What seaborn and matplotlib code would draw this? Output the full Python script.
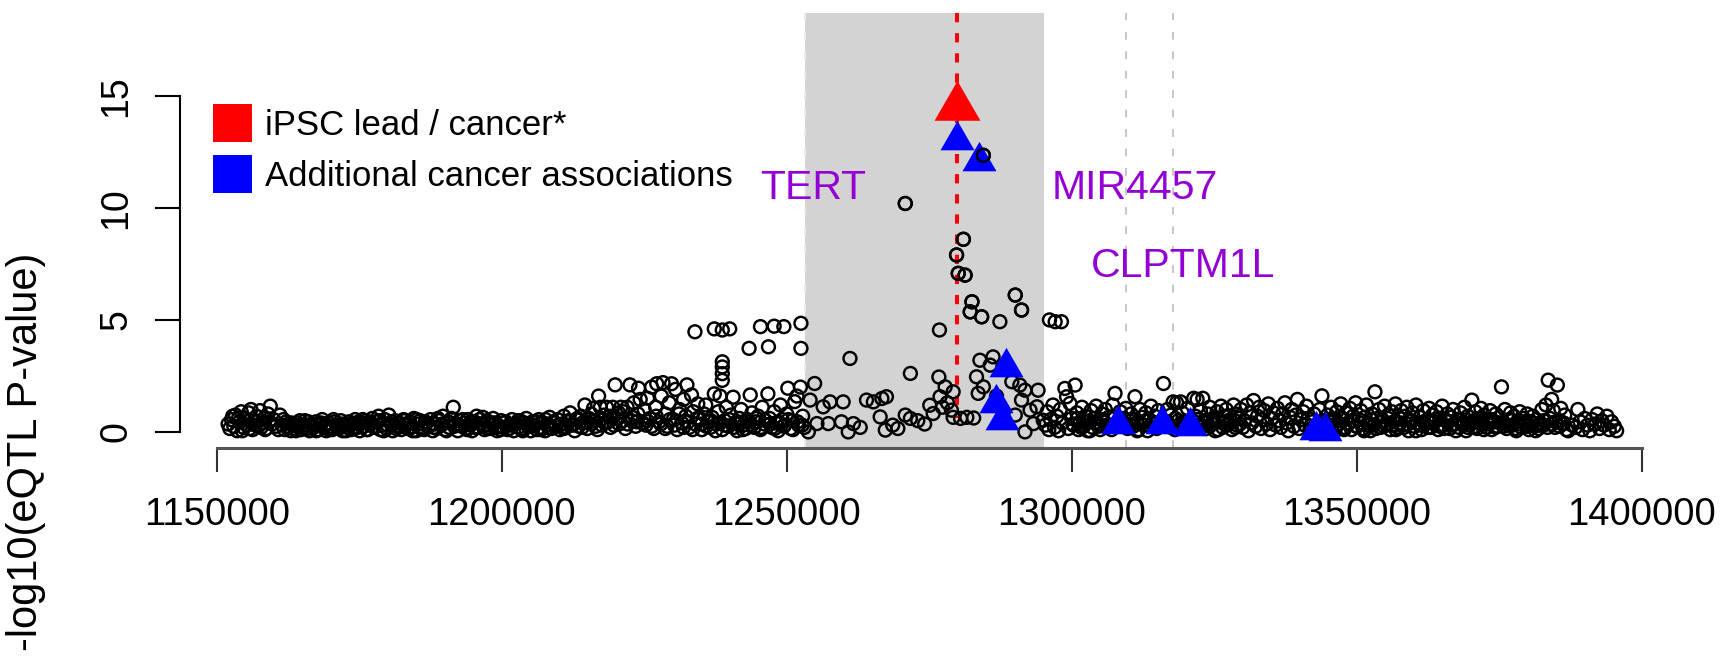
import matplotlib
matplotlib.use("Agg")
import matplotlib.pyplot as plt
from matplotlib.path import Path
from matplotlib.patches import Rectangle
import numpy as np
import pandas as pd
import seaborn as sns

# ---------------------------------------------------------------------------
# eQTL scan around TERT / CLPTM1L: position (kb) and -log10(P) of each SNP
# ---------------------------------------------------------------------------
seg_a_kb = [1152.0, 1152.3, 1152.6, 1153.0, 1153.3, 1153.6, 1154.0, 1154.3, 1154.7, 1155.0,
            1155.3, 1155.6, 1156.0, 1156.3, 1156.6, 1157.0, 1157.3, 1157.6, 1158.0, 1158.3,
            1158.7, 1159.0, 1159.4, 1159.7, 1160.0, 1152.8, 1154.5, 1156.8, 1158.5, 1159.2,
            1153.8, 1155.8, 1157.8, 1160.4, 1160.8, 1161.1]
seg_a_lp = [0.35, 0.15, 0.55, 0.25, 0.75, 0.05, 0.45, 0.90, 0.20, 0.60,
            0.30, 0.85, 1.00, 0.10, 0.50, 0.70, 0.25, 0.95, 0.40, 0.60,
            0.15, 0.80, 1.15, 0.35, 0.55, 0.70, 0.05, 0.30, 0.10, 0.45,
            0.60, 0.15, 0.20, 0.25, 0.10, 0.75]

seg_b_kb = [1161.5, 1161.9, 1162.2, 1162.6, 1163.0, 1163.3, 1163.7, 1164.1, 1164.4, 1164.8,
            1165.2, 1165.5, 1165.9, 1166.3, 1166.6, 1167.0, 1167.4, 1167.7, 1168.1, 1168.5,
            1168.8, 1169.2, 1169.6, 1169.9, 1170.3, 1170.7, 1171.0, 1171.4, 1171.8, 1172.1,
            1172.5, 1172.9, 1173.2, 1173.6, 1174.0, 1174.3, 1174.7, 1175.1, 1175.4, 1175.8,
            1176.2, 1176.5, 1176.9, 1177.3, 1177.6, 1178.0, 1178.4, 1178.7, 1179.1, 1179.5,
            1179.8, 1180.2, 1180.6, 1180.9, 1181.3, 1181.7, 1182.0, 1182.4, 1182.8, 1183.1,
            1183.5, 1183.9, 1184.2, 1184.6, 1185.0, 1185.3, 1185.7, 1186.1, 1186.4, 1186.8,
            1187.2, 1187.5, 1187.9, 1188.3, 1188.6, 1189.0, 1189.4, 1189.7, 1190.1, 1190.5,
            1190.8, 1191.2, 1191.5, 1191.9, 1192.3, 1192.6, 1193.0, 1193.4, 1193.7, 1194.1,
            1194.5, 1194.8, 1195.2, 1195.6, 1195.9, 1196.3, 1196.7, 1197.0, 1197.4, 1197.8,
            1198.1, 1198.5, 1198.9, 1199.2, 1199.6, 1199.9]
seg_b_lp = [0.30, 0.10, 0.45, 0.20, 0.05, 0.35, 0.15, 0.40, 0.25, 0.10,
            0.30, 0.50, 0.15, 0.05, 0.35, 0.20, 0.45, 0.10, 0.30, 0.55,
            0.20, 0.05, 0.40, 0.25, 0.10, 0.45, 0.30, 0.15, 0.50, 0.05,
            0.30, 0.20, 0.45, 0.10, 0.35, 0.55, 0.20, 0.05, 0.40, 0.25,
            0.50, 0.10, 0.35, 0.60, 0.20, 0.45, 0.70, 0.10, 0.30, 0.55,
            0.15, 0.75, 0.35, 0.05, 0.50, 0.25, 0.40, 0.10, 0.55, 0.30,
            0.15, 0.45, 0.20, 0.60, 0.05, 0.35, 0.50, 0.20, 0.10, 0.40,
            0.25, 0.55, 0.05, 0.35, 0.15, 0.50, 0.30, 0.70, 0.10, 0.45,
            0.20, 0.60, 1.10, 0.35, 0.05, 0.50, 0.25, 0.40, 0.15, 0.55,
            0.30, 0.05, 0.45, 0.70, 0.20, 0.35, 0.65, 0.10, 0.50, 0.30,
            0.15, 0.60, 0.40, 0.05, 0.25, 0.50]

seg_b2_kb = [1161.7, 1162.4, 1163.1, 1163.9, 1164.6, 1165.3, 1166.1, 1166.8, 1167.5, 1168.3,
             1169.0, 1169.7, 1170.5, 1171.2, 1171.9, 1172.7, 1173.4, 1174.1, 1174.9, 1175.6,
             1176.3, 1177.1, 1177.8, 1178.5, 1179.3, 1180.0, 1180.7, 1181.5, 1182.2, 1182.9,
             1183.7, 1184.4, 1185.1, 1185.9, 1186.6, 1187.3, 1188.1, 1188.8, 1189.5, 1190.3,
             1191.0, 1191.7, 1192.5, 1193.2, 1193.9, 1194.7, 1195.4, 1196.1, 1196.9, 1197.6,
             1198.3, 1199.1, 1199.8]
seg_b2_lp = [0.55, 0.25, 0.40, 0.05, 0.50, 0.20, 0.45, 0.30, 0.05, 0.40,
             0.30, 0.10, 0.55, 0.25, 0.35, 0.05, 0.30, 0.15, 0.45, 0.55,
             0.10, 0.40, 0.25, 0.50, 0.05, 0.30, 0.45, 0.15, 0.25, 0.50,
             0.35, 0.05, 0.55, 0.15, 0.45, 0.30, 0.20, 0.60, 0.35, 0.05,
             0.40, 0.25, 0.30, 0.55, 0.10, 0.45, 0.20, 0.55, 0.30, 0.15,
             0.40, 0.20, 0.10]

seg_c_kb = [1200.3, 1200.7, 1201.0, 1201.4, 1201.8, 1202.1, 1202.5, 1202.9, 1203.2, 1203.6,
            1204.0, 1204.3, 1204.7, 1205.1, 1205.4, 1205.8, 1206.2, 1206.5, 1206.9, 1207.3,
            1207.6, 1208.0, 1208.4, 1208.7, 1209.1, 1209.5, 1209.8, 1210.2, 1210.6, 1210.9,
            1211.3, 1211.7, 1212.0, 1212.4, 1212.8, 1213.1, 1213.5, 1213.9, 1214.2, 1214.6,
            1215.0, 1215.3, 1215.7, 1216.1, 1216.4, 1216.8, 1217.0, 1217.3, 1217.6, 1218.0,
            1218.4, 1218.7, 1219.1, 1219.5, 1219.9, 1220.2, 1220.6, 1220.9, 1221.3, 1221.7,
            1222.0, 1222.5, 1222.8, 1223.2, 1223.5, 1223.9, 1224.0, 1224.3, 1224.7, 1225.0]
seg_c_lp = [0.20, 0.45, 0.10, 0.30, 0.55, 0.05, 0.35, 0.20, 0.50, 0.15,
            0.40, 0.60, 0.25, 0.05, 0.45, 0.30, 0.10, 0.55, 0.20, 0.40,
            0.05, 0.30, 0.65, 0.15, 0.45, 0.25, 0.55, 0.10, 0.35, 0.70,
            0.20, 0.45, 0.85, 0.30, 0.05, 0.55, 0.25, 0.70, 0.40, 1.20,
            0.15, 0.60, 0.35, 1.05, 0.50, 0.10, 1.60, 1.10, 0.30, 0.75,
            1.10, 0.45, 0.20, 1.10, 2.10, 0.60, 0.35, 1.10, 0.90, 0.15,
            1.10, 2.10, 0.50, 1.30, 0.25, 0.80, 1.95, 1.45, 0.40, 1.00]

seg_c2_kb = [1200.5, 1201.3, 1202.1, 1202.9, 1203.7, 1204.5, 1205.3, 1206.1, 1206.9, 1207.7,
             1208.5, 1209.3, 1210.1, 1210.9, 1211.7, 1212.5, 1213.3, 1214.1, 1214.9, 1215.7,
             1216.5, 1217.3, 1218.1, 1218.9, 1219.7, 1220.5, 1221.3, 1222.1, 1222.9, 1223.7]
seg_c2_lp = [0.40, 0.15, 0.30, 0.50, 0.05, 0.35, 0.25, 0.45, 0.10, 0.55,
             0.20, 0.40, 0.30, 0.15, 0.50, 0.35, 0.60, 0.20, 0.45, 0.80,
             0.25, 0.55, 0.40, 0.70, 0.30, 0.85, 0.50, 0.35, 0.65, 0.45]

seg_d_kb = [1225.3, 1225.6, 1226.0, 1226.3, 1226.7, 1227.0, 1227.2, 1227.6, 1228.0, 1228.3,
            1228.7, 1229.0, 1229.4, 1229.8, 1230.1, 1230.5, 1230.8, 1231.2, 1231.6, 1231.9,
            1232.3, 1232.5, 1232.9, 1233.3, 1233.6, 1234.0, 1234.4, 1234.7, 1235.1, 1235.5,
            1235.8, 1236.2, 1236.6, 1236.9, 1237.3, 1237.7, 1238.0, 1238.3, 1238.7, 1239.1,
            1239.4, 1239.8, 1240.2, 1240.6, 1240.9, 1241.3, 1241.7, 1242.0, 1242.4, 1242.8,
            1243.1, 1243.6, 1243.9, 1244.3, 1244.6, 1245.0, 1245.4, 1245.7, 1246.1, 1246.7,
            1247.0, 1247.4, 1247.8, 1248.1, 1248.5, 1248.9, 1249.2, 1249.6, 1250.0, 1250.2,
            1250.7, 1251.0, 1251.4, 1251.8, 1252.1, 1252.4, 1252.8, 1253.1,
            1233.9, 1237.3, 1238.7, 1240.0, 1245.4, 1247.8, 1249.5, 1252.5, 1243.4, 1246.8,
            1252.5, 1238.7, 1238.7, 1238.7, 1238.7]
seg_d_lp = [0.30, 1.50, 0.60, 2.00, 0.15, 1.10, 2.15, 0.45, 1.60, 2.20,
            0.80, 0.25, 1.30, 2.15, 0.55, 1.90, 0.10, 1.00, 0.40, 1.45,
            0.70, 2.10, 0.20, 1.65, 0.90, 0.35, 1.25, 0.60, 0.10, 0.80,
            1.20, 0.45, 0.20, 0.65, 1.70, 0.35, 0.90, 1.60, 0.10, 0.50,
            1.10, 0.25, 0.75, 1.55, 0.40, 0.05, 0.60, 1.00, 0.30, 0.15,
            0.55, 1.65, 0.85, 0.20, 0.45, 0.70, 0.10, 1.10, 0.35, 1.70,
            0.60, 0.20, 0.90, 0.40, 0.05, 1.20, 0.55, 0.30, 0.80, 1.95,
            0.15, 0.50, 1.35, 1.60, 0.30, 2.00, 0.70, 0.20,
            4.47, 4.60, 4.55, 4.60, 4.70, 4.72, 4.70, 4.85, 3.73, 3.80,
            3.73, 3.13, 2.90, 2.60, 2.30]

seg_d2_kb = [1225.5, 1226.3, 1227.1, 1227.9, 1228.7, 1229.5, 1230.3, 1231.1, 1231.9, 1232.7,
             1233.5, 1234.3, 1235.1, 1235.9, 1236.7, 1237.5, 1238.3, 1239.1, 1239.9, 1240.7,
             1241.5, 1242.3, 1243.1, 1243.9, 1244.7, 1245.5, 1246.3, 1247.1, 1247.9, 1248.7,
             1249.5, 1250.3, 1251.1, 1251.9, 1252.7]
seg_d2_lp = [0.50, 0.25, 0.70, 0.35, 0.15, 0.55, 0.30, 0.80, 0.20, 0.45,
             0.10, 0.60, 0.35, 0.25, 0.50, 0.05, 0.40, 0.30, 0.55, 0.20,
             0.35, 0.10, 0.45, 0.30, 0.60, 0.20, 0.50, 0.35, 0.15, 0.40,
             0.25, 0.55, 0.10, 0.45, 0.30]

seg_e_kb = [1253.8, 1254.1, 1254.9, 1255.3, 1256.4, 1257.3, 1257.6, 1259.6, 1259.9, 1260.8,
            1261.1, 1261.7, 1262.9, 1264.0, 1265.2, 1266.4, 1266.7, 1267.3, 1267.5, 1268.6,
            1269.5, 1270.8, 1270.8, 1271.7, 1271.7, 1273.0, 1274.2, 1275.1, 1275.7, 1276.7,
            1276.8, 1276.9, 1277.3, 1277.8, 1278.2, 1278.9, 1279.2, 1279.2, 1279.8, 1280.1,
            1280.5, 1281.0, 1281.3, 1281.6, 1282.2, 1282.5, 1282.8, 1283.3, 1283.6, 1283.9,
            1284.2, 1284.5, 1284.5, 1285.7, 1286.2, 1286.8, 1287.4, 1288.0, 1289.5, 1290.1,
            1290.1, 1290.9, 1291.2, 1291.2, 1291.8, 1291.8, 1292.7, 1293.3, 1293.9, 1294.1,
            1295.0]
seg_e_lp = [0.00, 1.42, 2.16, 0.37, 1.12, 0.37, 1.34, 0.45, 1.34, 0.00,
            3.28, 0.37, 0.20, 1.42, 1.34, 0.67, 1.49, 0.08, 1.57, 0.30,
            0.15, 0.75, 10.20, 0.60, 2.61, 0.50, 0.35, 1.19, 0.82, 2.45,
            4.55, 1.57, 1.10, 2.01, 1.30, 0.97, 0.65, 1.79, 7.90, 7.08,
            0.60, 8.60, 7.00, 0.65, 5.36, 5.81, 0.62, 2.46, 1.72, 3.20,
            5.14, 2.01, 12.35, 2.98, 3.35, 1.60, 4.92, 0.90, 2.24, 6.11,
            0.75, 2.09, 5.44, 1.42, 1.86, 0.00, 0.97, 0.37, 1.12, 1.86,
            0.52]

seg_f_kb = [1295.4, 1295.7, 1296.0, 1296.1, 1296.3, 1296.7, 1297.0, 1297.1, 1297.4, 1297.7,
            1298.0, 1298.2, 1298.4, 1298.8, 1299.1, 1299.4, 1299.7, 1300.0, 1300.3, 1300.6,
            1300.9, 1301.2, 1301.5, 1301.8, 1302.1, 1302.4, 1302.8, 1303.1, 1303.4, 1303.7,
            1304.0, 1304.3, 1304.6, 1305.0, 1305.3, 1305.6, 1305.9, 1306.2, 1306.5, 1306.9,
            1307.2, 1307.6, 1308.5, 1309.2, 1309.5, 1309.8, 1310.1,
            1310.4, 1310.8, 1311.1, 1311.4, 1311.7, 1312.0, 1312.3, 1312.7, 1313.0, 1313.3,
            1313.6, 1313.9, 1314.3, 1314.6, 1314.9, 1315.2, 1316.1,
            1316.8, 1317.1, 1317.4, 1317.8, 1318.1, 1318.4, 1318.7, 1319.1, 1319.4, 1319.7,
            1320.3, 1321.4, 1321.7, 1322.0, 1322.3, 1322.6, 1323.0,
            1323.3, 1323.6, 1323.9, 1324.2, 1324.6, 1324.9, 1325.2, 1325.5, 1325.8, 1326.2,
            1326.5, 1326.8, 1327.1, 1327.4, 1327.8, 1328.1, 1328.4, 1328.7, 1329.0, 1329.4,
            1329.7, 1330.0]
seg_f_lp = [0.30, 0.90, 0.10, 5.00, 0.55, 1.20, 0.20, 4.92, 0.70, 0.05,
            1.00, 4.92, 0.40, 1.94, 1.57, 0.15, 1.27, 0.60, 0.30, 2.09,
            0.85, 0.10, 0.45, 1.10, 0.25, 0.70, 0.05, 0.50, 0.95, 0.20,
            0.60, 1.15, 0.35, 0.10, 0.80, 0.45, 1.00, 0.20, 0.65, 0.30,
            1.20, 1.72, 0.90, 0.60, 1.05, 0.15, 0.50,
            0.80, 0.25, 1.57, 0.40, 0.10, 1.00, 0.65, 0.30, 0.85, 0.05,
            0.50, 1.15, 0.35, 0.70, 0.15, 0.95, 2.16,
            1.00, 0.30, 0.75, 1.34, 0.10, 1.30, 0.50, 1.34, 0.85, 0.25,
            1.05, 1.50, 0.70, 1.45, 0.30, 0.95, 1.50,
            0.50, 0.15, 0.80, 1.10, 0.35, 0.60, 0.05, 0.90, 0.45, 1.15,
            0.20, 0.70, 1.00, 0.35, 0.55, 0.10, 1.20, 0.80, 0.30, 0.60,
            1.00, 0.20]

seg_f2_kb = [1300.2, 1301.0, 1301.7, 1302.5, 1303.2, 1304.0, 1304.7, 1305.5, 1306.2, 1307.0,
             1309.2, 1310.0, 1310.7, 1311.5, 1312.2, 1313.0, 1313.7, 1314.5,
             1316.7, 1317.5, 1318.2, 1319.0, 1319.7, 1322.0,
             1322.7, 1323.5, 1324.2, 1325.0, 1325.7, 1326.5, 1327.2, 1328.0, 1328.7, 1329.5]
seg_f2_lp = [0.35, 0.60, 0.20, 0.45, 0.05, 0.40, 0.25, 0.55, 0.30, 0.10,
             0.40, 0.20, 0.55, 0.05, 0.35, 0.50, 0.25, 0.40,
             0.45, 0.20, 0.60, 0.30, 0.45, 0.55,
             0.20, 0.40, 0.25, 0.50, 0.10, 0.40, 0.30, 0.45, 0.20, 0.35]

seg_g_kb = [1330.3, 1330.7, 1331.0, 1331.3, 1331.6, 1331.9, 1332.3, 1332.6, 1332.9, 1333.2,
            1333.5, 1333.8, 1334.2, 1334.5, 1334.8, 1335.1, 1335.4, 1335.8, 1336.1, 1336.4,
            1336.7, 1337.0, 1337.4, 1337.7, 1338.0, 1338.3, 1338.6, 1339.0, 1339.3, 1339.6,
            1339.9, 1340.2, 1340.6, 1340.9, 1341.2, 1341.5, 1341.8, 1342.2, 1342.5,
            1343.5, 1343.9, 1344.2, 1344.9, 1345.2, 1345.5, 1345.9, 1346.2,
            1346.5, 1346.8, 1347.2, 1347.5, 1347.8, 1348.1, 1348.5, 1348.8, 1349.1, 1349.4,
            1349.8, 1350.1, 1350.4, 1350.7, 1351.1, 1351.4, 1351.7, 1352.0, 1352.4, 1352.7,
            1353.0, 1353.2, 1353.6, 1353.9, 1354.2, 1354.6, 1354.9, 1355.2, 1355.5, 1355.9,
            1356.2, 1356.5, 1356.8, 1357.2, 1357.5, 1357.8, 1358.1, 1358.5, 1358.8, 1359.1,
            1359.4, 1359.8, 1360.1, 1360.4, 1360.7, 1361.1, 1361.4, 1361.7, 1362.0, 1362.4,
            1362.7, 1363.0, 1363.3, 1363.7, 1364.0, 1364.3, 1364.6, 1365.0, 1365.3, 1365.6,
            1365.9, 1366.3, 1366.6, 1366.9, 1367.2, 1367.6, 1367.9, 1368.2, 1368.5, 1368.9,
            1369.2, 1369.5, 1369.8, 1370.2, 1370.5, 1370.8, 1371.1, 1371.5, 1371.8, 1372.1,
            1372.4, 1372.8, 1373.1, 1373.4, 1373.7, 1374.1, 1374.4, 1374.7, 1375.0, 1375.4,
            1375.7, 1376.0, 1376.3, 1376.7, 1377.0, 1377.3, 1377.6, 1378.0, 1378.3, 1378.6,
            1378.9, 1379.3, 1379.6, 1379.9, 1380.2, 1380.6, 1380.9, 1381.2, 1381.5, 1381.9,
            1382.2, 1382.5, 1382.8, 1383.2, 1383.6, 1383.9, 1384.2, 1384.5, 1384.8, 1385.2,
            1385.5, 1385.8, 1386.1, 1386.5, 1386.8, 1387.1, 1387.8, 1388.4, 1388.8, 1389.2,
            1389.6, 1390.0, 1390.5, 1390.9, 1391.3, 1391.8, 1392.2, 1392.6, 1393.0, 1393.4,
            1393.9, 1394.3, 1394.7, 1395.2, 1395.6]
seg_g_lp = [0.50, 1.20, 0.05, 0.85, 0.40, 1.40, 0.25, 0.70, 1.10, 0.15,
            0.55, 0.95, 0.35, 1.25, 0.10, 0.60, 0.85, 0.30, 1.05, 0.50,
            0.20, 0.80, 1.30, 0.40, 0.05, 0.65, 1.00, 0.25, 0.75, 1.45,
            0.15, 0.55, 0.90, 0.30, 1.15, 0.60, 0.10, 0.45, 0.80,
            1.00, 1.61, 0.50, 0.75, 0.30, 1.10, 0.55, 0.05,
            0.90, 0.35, 1.25, 0.60, 0.20, 0.85, 0.40, 1.05, 0.10, 0.70,
            1.30, 0.25, 0.55, 0.95, 0.15, 0.65, 1.20, 0.40, 0.05, 0.80,
            0.30, 1.79, 0.60, 1.00, 0.20, 0.50, 1.15, 0.35, 0.75, 0.10,
            0.90, 0.45, 1.25, 0.20, 0.60, 0.95, 0.30, 0.70, 1.10, 0.05,
            0.50, 0.85, 0.25, 1.20, 0.40, 0.65, 0.10, 0.95, 0.35, 0.55,
            1.05, 0.20, 0.75, 0.45, 0.90, 0.10, 0.60, 1.15, 0.30, 0.50,
            0.80, 0.15, 0.65, 1.00, 0.35, 0.55, 0.20, 0.85, 0.40, 1.10,
            0.05, 0.70, 0.30, 1.42, 0.50, 0.90, 0.15, 0.60, 1.05, 0.35,
            0.75, 0.20, 0.55, 0.95, 0.10, 0.45, 0.80, 0.25, 0.65, 2.01,
            0.40, 1.00, 0.15, 0.55, 0.85, 0.30, 0.70, 0.05, 0.50, 0.90,
            0.20, 0.60, 0.35, 0.80, 0.10, 0.45, 0.70, 0.25, 0.55, 0.15,
            0.40, 1.00, 0.30, 1.20, 2.31, 0.60, 1.45, 0.95, 0.20, 2.09,
            0.50, 1.05, 0.35, 0.75, 0.10, 0.05, 0.30, 0.20, 1.00, 0.45,
            0.10, 0.60, 0.30, 0.05, 0.55, 0.35, 0.80, 0.15, 0.50, 0.30,
            0.70, 0.10, 0.45, 0.25, 0.05]

seg_g2_kb = [1345.0, 1345.7, 1346.4, 1347.1, 1347.8, 1348.5, 1349.2, 1349.9, 1350.6, 1351.3,
             1352.0, 1352.7, 1353.4, 1354.1, 1354.8, 1355.5, 1356.2, 1356.9, 1357.6, 1358.3,
             1359.0, 1359.7, 1360.4, 1361.1, 1361.8, 1362.5, 1363.2, 1363.9, 1364.6, 1365.3,
             1366.0, 1366.7, 1367.4, 1368.1, 1368.8, 1369.5, 1370.2, 1370.9, 1371.6, 1372.3,
             1373.0, 1373.7, 1374.4, 1375.1, 1375.8, 1376.5, 1377.2, 1377.9, 1378.6, 1379.3,
             1380.0, 1380.7, 1381.4, 1382.1, 1382.8, 1383.5, 1384.2, 1384.9, 1385.6, 1386.3]
seg_g2_lp = [0.20, 0.45, 0.30, 0.60, 0.10, 0.35, 0.50, 0.25, 0.40, 0.05,
             0.30, 0.55, 0.15, 0.45, 0.25, 0.60, 0.30, 0.10, 0.40, 0.20,
             0.35, 0.50, 0.05, 0.30, 0.45, 0.20, 0.40, 0.55, 0.25, 0.15,
             0.45, 0.30, 0.05, 0.50, 0.35, 0.20, 0.40, 0.25, 0.45, 0.10,
             0.35, 0.55, 0.20, 0.40, 0.25, 0.30, 0.50, 0.15, 0.35, 0.45,
             0.25, 0.40, 0.05, 0.30, 0.50, 0.20, 0.35, 0.45, 0.25, 0.40]

# iPSC lead variant (also a cancer GWAS hit)
lead_kb = [1279.8]
lead_lp = [14.5]

# variants with additional cancer associations
assoc_kb = [1279.9, 1283.8, 1288.4, 1286.7, 1287.7, 1308.2, 1315.8, 1320.8, 1342.8, 1344.4]
assoc_lp = [13.04, 12.11, 2.88, 1.27, 0.52, 0.37, 0.37, 0.27, 0.10, 0.05]

# gene annotation
tert_span = (1253262, 1295184)
lead_line_pos = 1279825
gene_start_lines = [1309474, 1317825]
gene_names = ["TERT", "MIR4457", "CLPTM1L"]
gene_label_kb = [1254.6, 1311.1, 1319.5]
gene_label_lp = [10.39, 10.39, 6.93]

legend_labels = ["iPSC lead / cancer*", "Additional cancer associations"]
legend_colors = ["#ff0000", "#0000ff"]

x_ticks = [1150000, 1200000, 1250000, 1300000, 1350000, 1400000]
y_ticks = [0, 5, 10, 15]
y_label = "-log10(eQTL P-value)"

# ---------------------------------------------------------------------------
segments = [(seg_a_kb, seg_a_lp), (seg_b_kb, seg_b_lp), (seg_b2_kb, seg_b2_lp),
            (seg_c_kb, seg_c_lp), (seg_c2_kb, seg_c2_lp), (seg_d_kb, seg_d_lp),
            (seg_d2_kb, seg_d2_lp), (seg_e_kb, seg_e_lp), (seg_f_kb, seg_f_lp),
            (seg_f2_kb, seg_f2_lp), (seg_g_kb, seg_g_lp), (seg_g2_kb, seg_g2_lp)]
snps = pd.concat([pd.DataFrame({"pos_kb": k, "lp": v}) for k, v in segments],
                 ignore_index=True)
snps["pos"] = snps["pos_kb"] * 1000
lead = pd.DataFrame({"pos": np.array(lead_kb) * 1000, "lp": lead_lp})
assoc = pd.DataFrame({"pos": np.array(assoc_kb) * 1000, "lp": assoc_lp})

sns.set_theme(style="white")
plt.rcParams["font.family"] = ["Liberation Sans", "DejaVu Sans"]

W, H, DPI = 1733, 657, 100
fig = plt.figure(figsize=(W / DPI, H / DPI), dpi=DPI)
fig.patch.set_facecolor("white")
ax = fig.add_axes([180 / W, 1 - 448 / H, 1500 / W, (448 - 12.7) / H])
ax.set_facecolor("white")
ax.set_xlim(1143561, 1406720)
ax.set_ylim(-0.72, 18.72)

# TERT gene body
ax.axvspan(*tert_span, color="#d3d3d3", lw=0, zorder=0)
ax.axvline(tert_span[0], color="#ececec", lw=1.4, dashes=(4, 6), zorder=1)
for gx in gene_start_lines:
    ax.axvline(gx, color="#c6c6c6", lw=1.4, dashes=(4, 6), zorder=1)

# lead variant marker line
ax.plot([lead_line_pos, lead_line_pos], [18.72, 0.6], color="#ff0000", lw=2.9,
        dashes=(2.3, 2.7), zorder=2, solid_capstyle="butt")

# triangles with the centroid on the data point
tri = Path([(0, 1), (-0.866, -0.5), (0.866, -0.5), (0, 1)],
           [Path.MOVETO, Path.LINETO, Path.LINETO, Path.CLOSEPOLY])

circle_kw = dict(marker="o", s=86, facecolor="none", edgecolor="black",
                 linewidth=1.75, legend=False)

# all SNPs, then the highlighted variants, then the strong signals on top
sns.scatterplot(data=snps, x="pos", y="lp", ax=ax, zorder=3, **circle_kw)
sns.scatterplot(data=lead, x="pos", y="lp", marker=tri, s=1460, color="#ff0000",
                linewidth=0, ax=ax, zorder=4, legend=False)
sns.scatterplot(data=assoc, x="pos", y="lp", marker=tri, s=800, color="#0000ff",
                linewidth=0, ax=ax, zorder=4, legend=False)
sns.scatterplot(data=snps[snps["lp"] > 5], x="pos", y="lp", ax=ax, zorder=5,
                **circle_kw)

# gene names
for name, gx, gy in zip(gene_names, gene_label_kb, gene_label_lp):
    ax.text(gx * 1000, gy, name, color="#9400d3", fontsize=29.5,
            ha="center", va="baseline", zorder=6)

# axes
for side in ["top", "right"]:
    ax.spines[side].set_visible(False)
ax.spines["left"].set_bounds(0, 15)
ax.spines["left"].set_color("black")
ax.spines["left"].set_linewidth(1.5)
ax.spines["bottom"].set_bounds(x_ticks[0], x_ticks[-1])
ax.spines["bottom"].set_color("#555555")
ax.spines["bottom"].set_linewidth(2.2)

ax.set_xticks(x_ticks)
ax.set_xticklabels([str(t) for t in x_ticks])
ax.set_yticks(y_ticks)
ax.set_yticklabels([str(t) for t in y_ticks], rotation=90, va="center")
ax.tick_params(axis="y", length=18, width=1.5, color="black", pad=15,
               labelsize=27, labelcolor="black", left=True)
ax.tick_params(axis="x", length=17, width=1.5, color="#333333", pad=18,
               labelsize=27.5, labelcolor="black", bottom=True)
ax.set_xlabel("")
ax.set_ylabel("")

# legend
for i, (lab, col) in enumerate(zip(legend_labels, legend_colors)):
    top = 104 + i * 51
    fig.add_artist(Rectangle((213 / W, 1 - (top + 38) / H), 39 / W, 38 / H,
                             transform=fig.transFigure, facecolor=col, lw=0))
    fig.text(265 / W, 1 - (top + 31) / H, lab, fontsize=25, color="black",
             va="baseline", ha="left")

fig.text(26 / W, 1 - 452 / H, y_label, rotation=90, fontsize=30,
         ha="center", va="center", color="black")

fig.savefig("out.png", dpi=DPI)
